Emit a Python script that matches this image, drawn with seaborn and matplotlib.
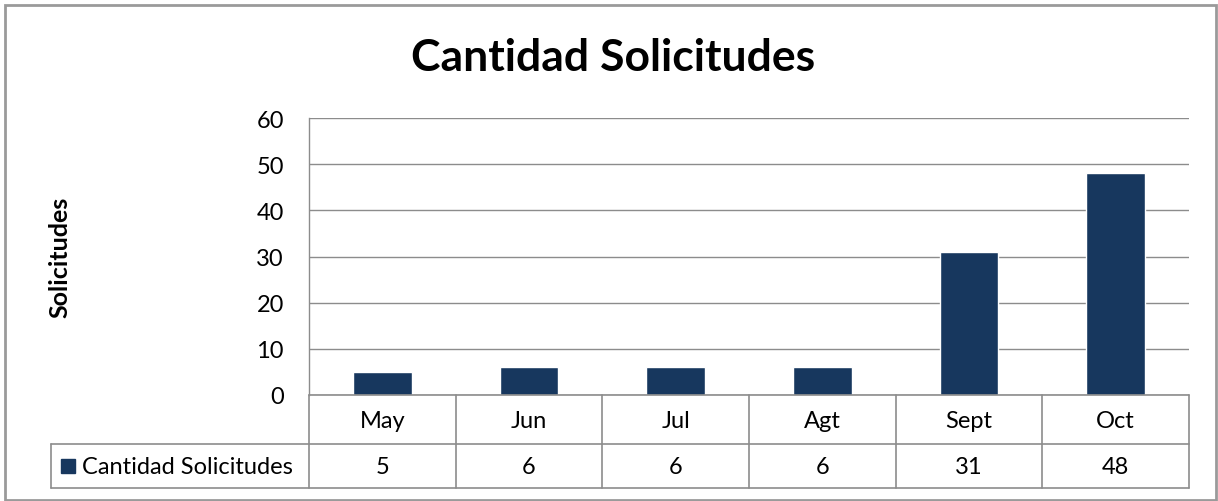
import matplotlib
matplotlib.use("Agg")
import matplotlib.pyplot as plt
import matplotlib.transforms as mtransforms
from matplotlib.lines import Line2D
from matplotlib.patches import Rectangle
import pandas as pd
import seaborn as sns

# Data
months = ["May", "Jun", "Jul", "Agt", "Sept", "Oct"]
solicitudes = [5, 6, 6, 6, 31, 48]
series_name = "Cantidad Solicitudes"
y_ticks = [0, 10, 20, 30, 40, 50, 60]

BAR_COLOR = "#17375E"
LINE_COLOR = "#8C8C8C"

sns.set_theme(style="white")
plt.rcParams['font.family'] = ['Lato', 'DejaVu Sans']
plt.rcParams['text.color'] = 'black'

df = pd.DataFrame({'Mes': months, 'Solicitudes': solicitudes})

W, H = 1218, 502
fig = plt.figure(figsize=(W / 100, H / 100), dpi=100)
fig.patch.set_facecolor("white")

# plot area in pixels (from the reference)
left, right, top, bottom = 309, 1189, 119, 396
ax = fig.add_axes([left / W, 1 - bottom / H, (right - left) / W, (bottom - top) / H])

sns.barplot(data=df, x='Mes', y='Solicitudes', color=BAR_COLOR, width=0.4,
            saturation=1, ax=ax, zorder=3)

ax.set_ylim(0, 60)
ax.set_yticks(y_ticks)
ax.set_xlim(-0.5, len(months) - 0.5)
ax.yaxis.grid(True, color=LINE_COLOR, linewidth=1, zorder=0)
ax.set_axisbelow(True)
ax.tick_params(axis='y', labelsize=17, colors='black', length=0, pad=18)
ax.set_xticks([])
ax.set_xlabel("")
ax.set_ylabel("")
for side in ['top', 'right', 'bottom']:
    ax.spines[side].set_visible(False)
ax.spines['left'].set_color(LINE_COLOR)
ax.spines['left'].set_linewidth(1)

# Title and y label
fig.text(613 / W, 1 - 58 / H, "Cantidad Solicitudes", ha='center', va='center',
         fontsize=32, fontweight='bold', color='black')
fig.text(60 / W, 1 - 257 / H, "Solicitudes", ha='center', va='center',
         rotation=90, fontsize=18, fontweight='bold', color='black')

# Data table below the axes
row1_top, row1_bot, row2_bot = 396, 445, 489
legend_left = 51
blend = mtransforms.blended_transform_factory(ax.transData, fig.transFigure)

def fy(py):
    return 1 - py / H

n = len(months)
# horizontal lines
for py in (row1_top, row1_bot, row2_bot):
    x0 = left if py == row1_top else legend_left
    fig.add_artist(Line2D([x0 / W, right / W], [fy(py), fy(py)],
                          color=LINE_COLOR, linewidth=1.2))
# vertical lines between categories
for i in range(n + 1):
    xb = i - 0.5
    fig.add_artist(Line2D([xb, xb], [fy(row1_top), fy(row2_bot)], transform=blend,
                          color=LINE_COLOR, linewidth=1.2))
# legend cell left edge
fig.add_artist(Line2D([legend_left / W, legend_left / W], [fy(row1_bot), fy(row2_bot)],
                      color=LINE_COLOR, linewidth=1.2))

for i, (m, v) in enumerate(zip(months, solicitudes)):
    fig.text(i, fy((row1_top + row1_bot) / 2 + 1), m, transform=blend,
             ha='center', va='center', fontsize=17, color='black')
    fig.text(i, fy((row1_bot + row2_bot) / 2 + 1), str(v), transform=blend,
             ha='center', va='center', fontsize=17, color='black')

# legend key + series name
fig.add_artist(Rectangle((61 / W, fy(474)), 14 / W, 14 / H, color=BAR_COLOR,
                         transform=fig.transFigure))
fig.text(82 / W, fy((row1_bot + row2_bot) / 2 + 1), series_name, ha='left', va='center',
         fontsize=17, color='black')

# outer frame
fig.add_artist(Rectangle((5 / W, 1 / H), 1211 / W, 495 / H, fill=False,
                         edgecolor="#9A9A9A", linewidth=2, transform=fig.transFigure))

fig.savefig("out.png", dpi=100)
